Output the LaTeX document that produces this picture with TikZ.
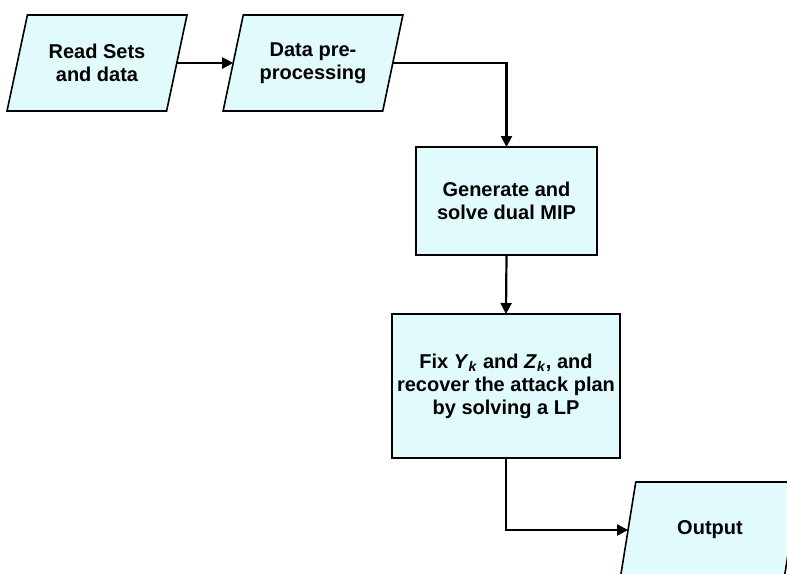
\documentclass[tikz,border=0pt]{standalone}
\usepackage{fontspec}
\setmainfont{Liberation Sans}
\usetikzlibrary{shapes.geometric,arrows.meta}
\definecolor{boxfill}{RGB}{225,250,252}
\begin{document}
\begin{tikzpicture}[x=1pt,y=-1pt,
  every node/.style={font=\fontsize{20}{23}\selectfont\bfseries, align=center},
  iobox/.style={trapezium, trapezium left angle=69.4, trapezium right angle=110.6,
    trapezium stretches=true, minimum width=180pt, minimum height=96pt,
    inner sep=0pt, outer sep=0pt, draw=black, line width=1.6pt, fill=boxfill},
  procbox/.style={rectangle, draw=black, line width=1.6pt, fill=boxfill,
    inner sep=0pt, outer sep=0pt},
  conn/.style={line width=2.2pt, -{Triangle[length=11pt,width=11pt]}}]
\useasboundingbox (0,0) rectangle (787,573);
\clip (0,0) rectangle (787,573);
\node[iobox] (read) at (97,63) {Read Sets\\and data};
\node[iobox] (data) at (313,63) {Data pre-\\processing};
\node[procbox, minimum width=181pt, minimum height=108pt] (mip) at (506.5,201) {Generate and\\solve dual MIP};
\node[procbox, minimum width=228pt, minimum height=144pt] (lp) at (506,386)
  {Fix \textit{Y}\textsubscript{\textit{k}} and \textit{Z}\textsubscript{\textit{k}}, and\\recover the attack plan\\by solving a LP};
\node[iobox] (out) at (710,530) {Output};
\draw[conn] (read.right side) -- (data.left side);
\draw[conn] (data.right side) -| (mip.north);
\draw[conn] (mip.south) -- (lp.north);
\draw[conn] (lp.south) |- (out.left side);
\end{tikzpicture}
\end{document}
